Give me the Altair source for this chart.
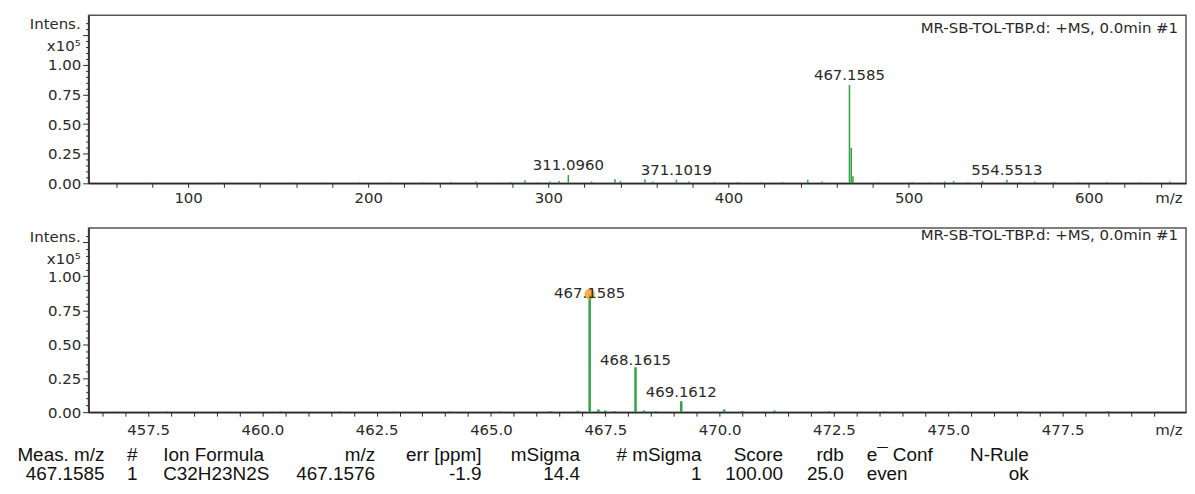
import altair as alt
import pandas as pd

FONT = "DejaVu Sans"
TFONT = "Liberation Sans"
GREEN = "#33a145"
INK = "#2a2a2a"

# ---------------- data: full-scan spectrum (top panel) ----------------
top_mz = [58, 76, 92, 120, 138, 157, 176, 195, 212, 230, 246, 260, 279, 287, 294,
          301, 306, 311.0960, 324, 337, 340, 353.6, 358, 371.1019, 378, 392, 405,
          418, 430, 444, 452, 467.1585, 468.16, 469.1, 483, 502, 512, 520, 525,
          533, 541, 554.5513, 562, 570, 581, 594, 610, 628, 645]
top_int = [0.004, 0.005, 0.004, 0.006, 0.005, 0.008, 0.006, 0.007, 0.008, 0.01,
           0.012, 0.015, 0.012, 0.025, 0.01, 0.015, 0.02, 0.07, 0.015, 0.035,
           0.02, 0.035, 0.015, 0.03, 0.015, 0.012, 0.012, 0.01, 0.012, 0.03,
           0.015, 0.83, 0.30, 0.06, 0.01, 0.012, 0.01, 0.015, 0.02, 0.012, 0.02,
           0.03, 0.012, 0.015, 0.012, 0.01, 0.012, 0.008, 0.015]
top_lab_mz = [311.0960, 371.1019, 467.1585, 554.5513]
top_lab_int = [0.07, 0.03, 0.83, 0.03]
top_lab_txt = ["311.0960", "371.1019", "467.1585", "554.5513"]

# ---------------- data: zoomed spectrum (bottom panel) ----------------
bot_mz = [456.8, 457.9, 459.2, 460.4, 461.7, 462.9, 464.1, 465.2, 466.3, 466.9,
          467.1585, 467.35, 467.5, 467.7, 468.1615, 468.35, 468.6, 469.1612,
          470.1, 470.5, 471.2, 472.4, 473.6, 475.2, 476.6, 478.5, 479.6]
bot_int = [0.003, 0.004, 0.003, 0.004, 0.005, 0.004, 0.004, 0.005, 0.008, 0.01,
           0.87, 0.02, 0.012, 0.008, 0.33, 0.012, 0.006, 0.08, 0.02, 0.008,
           0.012, 0.006, 0.005, 0.004, 0.006, 0.007, 0.004]
bot_lab_mz = [467.1585, 468.1615, 469.1612]
bot_lab_int = [0.87, 0.33, 0.08]
bot_lab_txt = ["467.1585", "468.1615", "469.1612"]

# ---------------- data: formula table ----------------
table_headers = ["Meas. m/z", "#", "Ion Formula", "m/z", "err [ppm]", "mSigma",
                 "# mSigma", "Score", "rdb", "e\u00af Conf", "N-Rule"]
table_values = ["467.1585", "1", "C32H23N2S", "467.1576", "-1.9", "14.4",
                "1", "100.00", "25.0", "even", "ok"]
# layout of the table columns (pixel anchor relative to plot, alignment)
col_x = [16, 44, 75, 288, 395, 494, 616, 698, 759, 782, 945]
col_align = ["right", "center", "left", "right", "right", "right",
             "right", "right", "right", "left", "right"]

SPEC_NAME = "MR-SB-TOL-TBP.d: +MS, 0.0min #1"

W = 1103
H_TOP, H_BOT = 169, 185


def yaxis(tick_max):
    ticks = [round(i * 0.05, 2) for i in range(int(round(tick_max / 0.05)) + 1)]
    major = "abs(datum.value*4 - round(datum.value*4)) < 0.001"
    return alt.Axis(
        values=ticks, title=None, grid=False, minExtent=80, maxExtent=80,
        labelOverlap=False, labelBound=False,
        labelExpr=f"({major} && datum.value <= 1.001) ? format(datum.value, '.2f') : ''",
        tickSize={"condition": {"test": major, "value": 6}, "value": 3},
        labelPadding=2, labelFont=FONT, labelFontSize=15, labelColor=INK,
        tickColor=INK, domainColor=INK, domainWidth=1.5,
    )


def xaxis(ticks, step, fmt, label_pad):
    test = f"abs(datum.value/{step} - round(datum.value/{step})) < 0.0001"
    return alt.Axis(
        values=ticks, grid=False, title="m/z",
        labelExpr=f"{test} ? format(datum.value, '{fmt}') : ''",
        labelFlush=False, labelOverlap=False, labelBound=False,
        tickSize=4, labelPadding=label_pad, labelFont=FONT, labelFontSize=15,
        labelColor=INK, tickColor=INK, domainColor=INK, domainWidth=1.5,
        titleFont=FONT, titleFontSize=15, titleFontWeight="normal", titleColor=INK,
        titleAnchor="end", titleAlign="right", titleBaseline="top",
        titleX=W - 4, titleY=4 + label_pad,
    )


def panel(mz, inten, lab_mz, lab_int, lab_txt, xdom, ydom, ytick_max, xticks, step,
          fmt, label_pad, name_y, lab_dy, stroke):
    df = pd.DataFrame({"mz": mz, "I": inten})
    ldf = pd.DataFrame({"mz": lab_mz, "I": lab_int, "t": lab_txt, "dy": lab_dy})
    xa = xaxis(xticks, step, fmt, label_pad)
    ya = yaxis(ytick_max)
    xs = alt.Scale(domain=xdom, nice=False, zero=False)
    ys = alt.Scale(domain=ydom, nice=False)
    x = alt.X("mz:Q", scale=xs, axis=xa)
    y = alt.Y("I:Q", scale=ys, axis=ya)
    sticks = alt.Chart(df).mark_rule(color=GREEN, strokeWidth=stroke, clip=True).encode(
        x=x, y=y, y2=alt.datum(0))
    layers = [sticks]
    for d in sorted(set(lab_dy)):
        sub = ldf[ldf.dy == d]
        layers.append(alt.Chart(sub).mark_text(
            font=FONT, fontSize=15, color=INK, baseline="alphabetic", dy=d
        ).encode(x=x, y=y, text="t:N"))
    tdf = pd.DataFrame({"t": ["Intens."], "s": ["x10\u2075"], "n": [SPEC_NAME]})
    tb = alt.Chart(tdf)
    layers.append(tb.mark_text(font=FONT, fontSize=15, color=INK, align="right",
                               baseline="middle").encode(
        x=alt.value(-8), y=alt.value(9), text="t:N"))
    layers.append(tb.mark_text(font=FONT, fontSize=15, color=INK, align="right",
                               baseline="middle").encode(
        x=alt.value(-8), y=alt.value(31), text="s:N"))
    layers.append(tb.mark_text(font=FONT, fontSize=15, color=INK, align="right",
                               baseline="middle").encode(
        x=alt.value(W - 8), y=alt.value(name_y), text="n:N"))
    return layers, x, y


top_layers, _, _ = panel(top_mz, top_int, top_lab_mz, top_lab_int, top_lab_txt,
                         [44.75, 654], [0, 1.42], 1.35, list(range(60, 660, 20)),
                         100, "d", 3, 13, [-5, -5, -5, -5], 1.5)
top = alt.layer(*top_layers).properties(width=W, height=H_TOP)

bot_layers, bx, by = panel(bot_mz, bot_int, bot_lab_mz, bot_lab_int, bot_lab_txt,
                           [456.2, 480.2], [0, 1.355], 1.30,
                           [round(456.5 + 0.5 * i, 1) for i in range(47)],
                           2.5, ".1f", 6, 6.5, [4, -2, -4], 2.5)

# highlighted monoisotopic peak
dot_df = pd.DataFrame({"mz": [bot_lab_mz[0]], "I": [bot_lab_int[0]]})
dot = alt.Chart(dot_df).mark_circle(color="#f5a623", opacity=0.85, size=110).encode(
    x=bx, y=by)
bot_layers.insert(1, dot)

# formula table below the lower spectrum
tab = []
for hdr, val, cx, al in zip(table_headers, table_values, col_x, col_align):
    cdf = pd.DataFrame({"h": [hdr], "v": [val]})
    c = alt.Chart(cdf)
    tab.append(c.mark_text(font=TFONT, fontSize=19, color="#111", align=al,
                           baseline="middle").encode(
        x=alt.value(cx), y=alt.value(H_BOT + 43), text="h:N"))
    tab.append(c.mark_text(font=TFONT, fontSize=19, color="#111", align=al,
                           baseline="middle").encode(
        x=alt.value(cx), y=alt.value(H_BOT + 62), text="v:N"))

bot = alt.layer(*bot_layers, *tab).properties(width=W, height=H_BOT)

chart = alt.vconcat(top, bot, spacing=20).properties(
    padding={"left": 0, "top": 5, "right": 0, "bottom": 0},
    background="white",
).configure_view(stroke="#555", strokeWidth=1.5).configure_axis(labelOverlap=False)

chart.save("out.html", embed_options={"renderer": "svg", "actions": False})
